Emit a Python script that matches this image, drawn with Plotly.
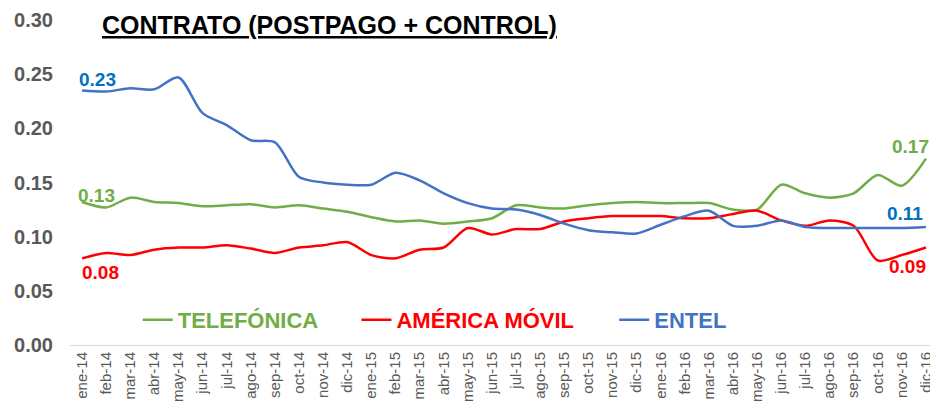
import plotly.graph_objects as go

months = ["ene","feb","mar","abr","may","jun","jul","ago","sep","oct","nov","dic"]
categories = [f"{m}-{y}" for y in ["14","15","16"] for m in months]

telefonica = [0.132,0.127,0.136,0.132,0.131,0.128,0.129,0.130,0.127,0.129,0.126,0.123,
              0.118,0.114,0.115,0.112,0.114,0.117,0.129,0.127,0.126,0.129,0.131,0.132,
              0.131,0.131,0.131,0.125,0.125,0.148,0.140,0.136,0.140,0.157,0.147,0.172]
america_movil = [0.080,0.085,0.083,0.088,0.090,0.090,0.092,0.089,0.085,0.090,0.092,0.095,
                 0.083,0.080,0.088,0.090,0.108,0.102,0.107,0.107,0.114,0.117,0.119,0.119,
                 0.119,0.117,0.117,0.121,0.124,0.115,0.110,0.115,0.110,0.078,0.083,0.090]
entel = [0.235,0.234,0.237,0.236,0.247,0.214,0.203,0.189,0.187,0.155,0.150,0.148,
         0.148,0.159,0.152,0.140,0.131,0.126,0.125,0.120,0.112,0.106,0.104,0.103,
         0.111,0.119,0.124,0.110,0.110,0.115,0.109,0.108,0.108,0.108,0.108,0.109]

yticks = [0.0, 0.05, 0.10, 0.15, 0.20, 0.25, 0.30]
ytick_text = ["0.00", "0.05", "0.10", "0.15", "0.20", "0.25", "0.30"]

FONT = "Liberation Sans, Arial, sans-serif"
GREEN, RED, BLUE, LBLUE = "#70AD47", "#FF0000", "#4472C4", "#0070C0"

series = [
    ("TELEFÓNICA", telefonica, GREEN, "legend"),
    ("AMÉRICA MÓVIL", america_movil, RED, "legend2"),
    ("ENTEL", entel, BLUE, "legend3"),
]

fig = go.Figure()
for name, vals, col, lg in series:
    fig.add_trace(go.Scatter(
        x=categories, y=vals, mode="lines",
        name=f"<b><span style='color:{col}'>{name}</span></b>",
        legend=lg,
        line=dict(color=col, width=2.5, shape="spline", smoothing=0.8),
        hoverinfo="skip",
    ))

# (values, index, colour, xanchor, xshift, yshift)
labels = [
    (entel, 0, LBLUE, "left", -5, 11),
    (telefonica, 0, GREEN, "left", -6, 7),
    (america_movil, 0, RED, "left", -2, -14),
    (telefonica, -1, GREEN, "right", 5, 12),
    (entel, -1, LBLUE, "right", -1, 13),
    (america_movil, -1, RED, "right", 2, -19),
]
annos = []
for vals, idx, col, xa, xs, ys in labels:
    annos.append(dict(
        xref="x", yref="y", x=categories[idx], y=vals[idx],
        text=f"<b>{vals[idx]:.2f}</b>", showarrow=False,
        xanchor=xa, yanchor="middle", xshift=xs, yshift=ys,
        font=dict(family=FONT, size=19, color=col),
    ))
annos.append(dict(
    xref="paper", yref="paper", x=0.034, y=0.985, xanchor="left", yanchor="middle",
    text="<b><u>CONTRATO (POSTPAGO + CONTROL)</u></b>", showarrow=False,
    font=dict(family=FONT, size=25, color="#000000"),
))

leg_common = dict(orientation="h", yanchor="middle", xanchor="left", y=0.077,
                  bgcolor="rgba(0,0,0,0)", borderwidth=0,
                  font=dict(family=FONT, size=22))

# the page body adds an 8 px offset, so the figure is 8 px smaller than the window
fig.update_layout(
    width=930, height=411,
    margin=dict(l=62, r=0, t=12, b=74),
    paper_bgcolor="white", plot_bgcolor="white",
    annotations=annos,
    showlegend=True,
    legend=dict(x=0.078, **leg_common),
    legend2=dict(x=0.330, **leg_common),
    legend3=dict(x=0.627, **leg_common),
    xaxis=dict(type="category", tickangle=-90, showgrid=False, showline=True,
               linecolor="#D9D9D9", linewidth=1, ticks="", automargin=False,
               tickfont=dict(family=FONT, size=15, color="#595959"),
               range=[-0.5, 35.5]),
    yaxis=dict(range=[0, 0.30], tickvals=yticks, ticktext=[f"<b>{t}</b>" for t in ytick_text],
               showgrid=False, zeroline=False, showline=False, ticks="", automargin=False,
               ticklabelstandoff=16,
               tickfont=dict(family=FONT, size=20, color="#595959")),
)

fig.write_html("out.html")
